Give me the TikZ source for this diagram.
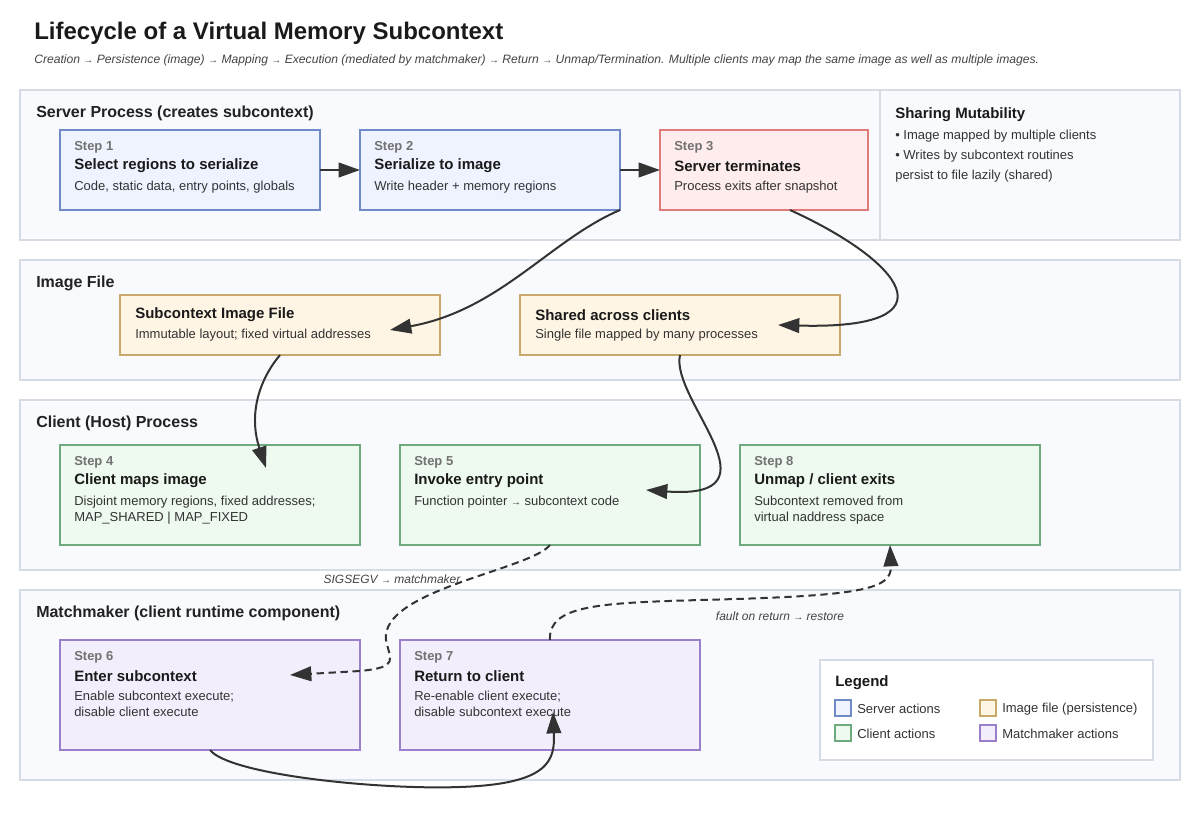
\documentclass[tikz,border=0pt]{standalone}
\usepackage{fontspec}
\setmainfont{Liberation Sans}
\usepackage{tikz}
\usetikzlibrary{arrows.meta}
\definecolor{inkdark}{HTML}{1A1A1A}
\definecolor{inkhead}{HTML}{222222}
\definecolor{inkmid}{HTML}{333333}
\definecolor{inksub}{HTML}{444444}
\definecolor{stepgray}{HTML}{727272}
\definecolor{lanefill}{HTML}{F8FAFD}
\definecolor{laneline}{HTML}{D5DCE6}
\definecolor{srvfill}{HTML}{EEF3FF}
\definecolor{srvline}{HTML}{7089C9}
\definecolor{termfill}{HTML}{FFECEC}
\definecolor{termline}{HTML}{E07B7B}
\definecolor{imgfill}{HTML}{FFF5E4}
\definecolor{imgline}{HTML}{C9A86B}
\definecolor{clifill}{HTML}{EEF9EF}
\definecolor{cliline}{HTML}{6FAA7F}
\definecolor{mmfill}{HTML}{F3EEFC}
\definecolor{mmline}{HTML}{9A7FCC}
\definecolor{arrowink}{HTML}{333333}
\newcommand{\arr}{{\fontsize{7.5}{7.5}\selectfont →}}
\tikzset{
  lane/.style={draw=laneline, fill=lanefill, line width=1.2pt},
  lanetitle/.style={anchor=west, inner sep=0, font=\bfseries\fontsize{12}{14}\selectfont, text=inkhead},
  card/.style={draw, line width=1.2pt, inner sep=0, outer sep=0, anchor=north west},
  srvcard/.style={card, draw=srvline, fill=srvfill},
  termcard/.style={card, draw=termline, fill=termfill},
  imgcard/.style={card, draw=imgline, fill=imgfill},
  clicard/.style={card, draw=cliline, fill=clifill},
  mmcard/.style={card, draw=mmline, fill=mmfill},
  steplbl/.style={anchor=west, inner sep=0, font=\bfseries\fontsize{9.75}{12}\selectfont, text=stepgray},
  cardtitle/.style={anchor=west, inner sep=0, font=\bfseries\fontsize{11.25}{13}\selectfont, text=inkdark},
  carddesc/.style={anchor=north west, inner sep=0, align=left, font=\fontsize{9.75}{12}\selectfont, text=inkmid},
  flowlbl/.style={inner sep=0, font=\itshape\fontsize{9}{11}\selectfont, text=inksub},
  flow/.style={-{Triangle[length=16pt,width=11pt]}, line width=1.5pt, draw=arrowink},
  trapflow/.style={flow, dash pattern=on 5.5pt off 3.5pt},
  swatch/.style={draw, line width=1.2pt, minimum size=12pt, inner sep=0, outer sep=0, anchor=north west},
  legendtxt/.style={anchor=west, inner sep=0, font=\fontsize{9.75}{12}\selectfont, text=inkmid}
}

\begin{document}
\begin{tikzpicture}[x=0.75pt,y=-0.75pt]
  \useasboundingbox[fill=white] (0,0) rectangle (1200,820);

  % heading
  \node[anchor=west, inner sep=0, font=\bfseries\fontsize{18}{22}\selectfont, text=inkdark] (title) at (34,33) {Lifecycle of a Virtual Memory Subcontext};
  \node[anchor=west, inner sep=0, font=\itshape\fontsize{9.1}{11}\selectfont, text=inksub] (subtitle) at (34,60) {Creation \arr{} Persistence (image) \arr{} Mapping \arr{} Execution (mediated by matchmaker) \arr{} Return \arr{} Unmap/Termination. Multiple clients may map the same image as well as multiple images.};

  % swimlanes
  \draw[lane] (20,90) rectangle (1180,240);
  \draw[draw=laneline, line width=1.2pt] (880,90) -- (880,240);
  \draw[lane] (20,260) rectangle (1180,380);
  \draw[lane] (20,400) rectangle (1180,570);
  \draw[lane] (20,590) rectangle (1180,780);
  \node[lanetitle] (srvlane) at (36,113) {Server Process (creates subcontext)};
  \node[lanetitle] (imglane) at (36,283) {Image File};
  \node[lanetitle] (clilane) at (36,423) {Client (Host) Process};
  \node[lanetitle] (mmlane) at (36,613) {Matchmaker (client runtime component)};

  % server side
  \node[srvcard, minimum width=195pt, minimum height=60pt] (s1) at (60,130) {};
  \node[steplbl] (s1n) at ([shift={(14,17)}]s1.north west) {Step 1};
  \node[cardtitle] (s1t) at ([shift={(14,36)}]s1.north west) {Select regions to serialize};
  \node[carddesc] (s1d) at ([shift={(14,51)}]s1.north west) {Code, static data, entry points, globals};

  \node[srvcard, minimum width=195pt, minimum height=60pt] (s2) at (360,130) {};
  \node[steplbl] (s2n) at ([shift={(14,17)}]s2.north west) {Step 2};
  \node[cardtitle] (s2t) at ([shift={(14,36)}]s2.north west) {Serialize to image};
  \node[carddesc] (s2d) at ([shift={(14,51)}]s2.north west) {Write header + memory regions};

  \node[termcard, minimum width=156pt, minimum height=60pt] (s3) at (660,130) {};
  \node[steplbl] (s3n) at ([shift={(14,17)}]s3.north west) {Step 3};
  \node[cardtitle] (s3t) at ([shift={(14,36)}]s3.north west) {Server terminates};
  \node[carddesc] (s3d) at ([shift={(14,51)}]s3.north west) {Process exits after snapshot};

  \node[cardtitle] (sharet) at (895,115) {Sharing Mutability};
  \node[carddesc, font=\fontsize{9.75}{15}\selectfont] (shared) at (895,130) {• Image mapped by multiple clients\\• Writes by subcontext routines\\persist to file lazily (shared)};

  % image file
  \node[imgcard, minimum width=240pt, minimum height=45pt] (img) at (120,295) {};
  \node[cardtitle] (imgt) at ([shift={(15,20)}]img.north west) {Subcontext Image File};
  \node[carddesc] (imgd) at ([shift={(15,34)}]img.north west) {Immutable layout; fixed virtual addresses};

  \node[imgcard, minimum width=240pt, minimum height=45pt] (shr) at (520,295) {};
  \node[cardtitle] (shrt) at ([shift={(15,20)}]shr.north west) {Shared across clients};
  \node[carddesc] (shrd) at ([shift={(15,34)}]shr.north west) {Single file mapped by many processes};

  % client
  \node[clicard, minimum width=225pt, minimum height=75pt] (s4) at (60,445) {};
  \node[steplbl] (s4n) at ([shift={(14,17)}]s4.north west) {Step 4};
  \node[cardtitle] (s4t) at ([shift={(14,36)}]s4.north west) {Client maps image};
  \node[carddesc] (s4d) at ([shift={(14,51)}]s4.north west) {Disjoint memory regions, fixed addresses;\\MAP\_SHARED | MAP\_FIXED};

  \node[clicard, minimum width=225pt, minimum height=75pt] (s5) at (400,445) {};
  \node[steplbl] (s5n) at ([shift={(14,17)}]s5.north west) {Step 5};
  \node[cardtitle] (s5t) at ([shift={(14,36)}]s5.north west) {Invoke entry point};
  \node[carddesc] (s5d) at ([shift={(14,51)}]s5.north west) {Function pointer \arr{} subcontext code};

  \node[clicard, minimum width=225pt, minimum height=75pt] (s8) at (740,445) {};
  \node[steplbl] (s8n) at ([shift={(14,17)}]s8.north west) {Step 8};
  \node[cardtitle] (s8t) at ([shift={(14,36)}]s8.north west) {Unmap / client exits};
  \node[carddesc] (s8d) at ([shift={(14,51)}]s8.north west) {Subcontext removed from\\virtual naddress space};

  % matchmaker
  \node[mmcard, minimum width=225pt, minimum height=82.5pt] (s6) at (60,640) {};
  \node[steplbl] (s6n) at ([shift={(14,17)}]s6.north west) {Step 6};
  \node[cardtitle] (s6t) at ([shift={(14,36)}]s6.north west) {Enter subcontext};
  \node[carddesc] (s6d) at ([shift={(14,51)}]s6.north west) {Enable subcontext execute;\\disable client execute};

  \node[mmcard, minimum width=225pt, minimum height=82.5pt] (s7) at (400,640) {};
  \node[steplbl] (s7n) at ([shift={(14,17)}]s7.north west) {Step 7};
  \node[cardtitle] (s7t) at ([shift={(14,36)}]s7.north west) {Return to client};
  \node[carddesc] (s7d) at ([shift={(14,51)}]s7.north west) {Re-enable client execute;\\disable subcontext execute};

  % legend
  \node[card, draw=laneline, fill=white, minimum width=249.75pt, minimum height=75pt] (legend) at (820,660) {};
  \node[cardtitle] (legt) at (835,683) {Legend};
  \node[swatch, draw=srvline, fill=srvfill] (lg1) at (835,700) {};
  \node[legendtxt] (lg1t) at (857,709) {Server actions};
  \node[swatch, draw=cliline, fill=clifill] (lg2) at (835,725) {};
  \node[legendtxt] (lg2t) at (857,734) {Client actions};
  \node[swatch, draw=imgline, fill=imgfill] (lg3) at (980,700) {};
  \node[legendtxt] (lg3t) at (1002,709) {Image file (persistence)};
  \node[swatch, draw=mmline, fill=mmfill] (lg4) at (980,725) {};
  \node[legendtxt] (lg4t) at (1002,734) {Matchmaker actions};

  % arrow ends
  \coordinate (imgin) at (390,330);
  \coordinate (shrin) at (778,325);
  \coordinate (s4in) at (266,468);
  \coordinate (s5in) at (646,490);
  \coordinate (s6in) at (290,675);
  \coordinate (s7in) at (553,712);
  \coordinate (s2out) at (620,210);
  \coordinate (s3out) at (790,210);
  \coordinate (imgout) at (280,355);
  \coordinate (shrout) at (680,355);
  \coordinate (s5out) at (550,545);
  \coordinate (s6out) at (210,750);
  \coordinate (s7out) at (550,640);
  \coordinate (s8in) at (890,545);

  % flows
  \draw[flow] (s1.east) -- (s2.west);
  \draw[flow] (s2.east) -- (s3.west);
  \draw[flow] (s2out) .. controls (550,240) and (500,310) .. (imgin);
  \draw[flow] (s3out) .. controls (900,260) and (960,330) .. (shrin);
  \draw[flow] (imgout) .. controls (255,385) and (250,420) .. (s4in);
  \draw[flow] (shrout) .. controls (670,400) and (785,500) .. (s5in);
  \draw[trapflow] (s5out) .. controls (530,570) and (380,590) .. (386,640)
    .. controls (390,660) and (400,667) .. (360,671) -- (s6in);
  \draw[flow] (s6out) .. controls (230,775) and (380,790) .. (460,787)
    .. controls (550,784) and (555,760) .. (s7in);
  \draw[trapflow] (s7out) .. controls (548,605) and (600,603) .. (700,600)
    .. controls (860,596) and (892,590) .. (s8in);
  \node[flowlbl] (trapl) at (392,579) {SIGSEGV \arr{} matchmaker};
  \node[flowlbl] (retl) at (780,616) {fault on return \arr{} restore};
\end{tikzpicture}
\end{document}
